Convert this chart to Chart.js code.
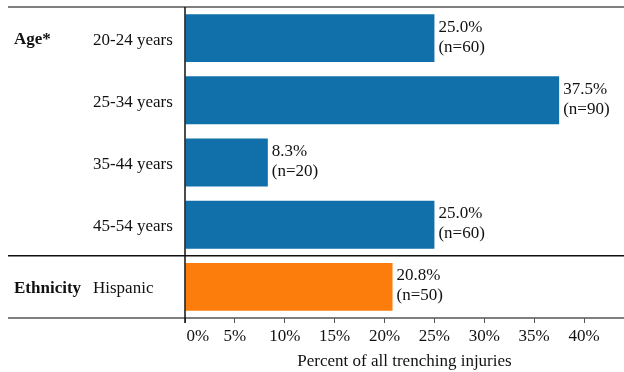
<!DOCTYPE html>
<html>
<head>
<meta charset="utf-8">
<script src="https://cdn.jsdelivr.net/npm/chart.js@4"></script>
<style>
  html, body { margin: 0; padding: 0; background: #fff; }
  #wrap { width: 624px; height: 372px; position: relative; }
</style>
</head>
<body>
<div id="wrap"><canvas id="barchart"></canvas></div>
<script>
// Trenching injuries by age group and ethnicity
const categories = ['20-24 years', '25-34 years', '35-44 years', '45-54 years', 'Hispanic'];
const percents = [25.0, 37.5, 8.3, 25.0, 20.8];
const counts = [60, 90, 20, 60, 50];
const groups = [
  { label: 'Age*', first: 0 },
  { label: 'Ethnicity', first: 4 }
];
const xTicks = [0, 5, 10, 15, 20, 25, 30, 35, 40];

const blue = '#1170aa';
const orange = '#fc7d0b';
const fontFamily = '"Liberation Serif", "Times New Roman", serif';

// Rules across the whole width, group names and value labels
const tablePlugin = {
  id: 'tablePlugin',
  afterDraw(chart) {
    const ctx = chart.ctx;
    const area = chart.chartArea;
    const y = chart.scales.y;
    const x = chart.scales.x;
    const w = chart.width;
    const slot = y.getPixelForValue(1) - y.getPixelForValue(0);

    ctx.save();
    // top and bottom rules
    ctx.strokeStyle = '#555';
    ctx.lineWidth = 1.5;
    ctx.beginPath();
    ctx.moveTo(8, area.top);
    ctx.lineTo(w, area.top);
    ctx.moveTo(8, area.bottom);
    ctx.lineTo(w, area.bottom);
    ctx.stroke();

    // separator between the groups
    ctx.strokeStyle = '#111';
    ctx.lineWidth = 1.5;
    groups.slice(1).forEach(g => {
      const yy = y.getPixelForValue(g.first) - slot / 2;
      ctx.beginPath();
      ctx.moveTo(8, yy);
      ctx.lineTo(w, yy);
      ctx.stroke();
    });

    // vertical axis line, running down to the 0% tick
    ctx.beginPath();
    ctx.moveTo(x.getPixelForValue(0), area.top);
    ctx.lineTo(x.getPixelForValue(0), area.bottom + 5);
    ctx.stroke();

    // group names
    ctx.fillStyle = '#111';
    ctx.font = 'bold 17px ' + fontFamily;
    ctx.textAlign = 'left';
    ctx.textBaseline = 'middle';
    groups.forEach(g => {
      ctx.fillText(g.label, 14, y.getPixelForValue(g.first) + 2);
    });

    // value labels next to each bar
    ctx.font = '17px ' + fontFamily;
    const meta = chart.getDatasetMeta(0);
    meta.data.forEach((bar, i) => {
      const lx = bar.x + 4;
      ctx.fillText(percents[i].toFixed(1) + '%', lx, bar.y - 11);
      ctx.fillText('(n=' + counts[i] + ')', lx, bar.y + 9);
    });
    ctx.restore();
  }
};

new Chart(document.getElementById('barchart'), {
  type: 'bar',
  data: {
    labels: categories,
    datasets: [{
      data: percents,
      backgroundColor: categories.map((c, i) => i < 4 ? blue : orange),
      borderWidth: 0,
      categoryPercentage: 1,
      barPercentage: 0.77
    }]
  },
  options: {
    indexAxis: 'y',
    responsive: true,
    maintainAspectRatio: false,
    animation: false,
    layout: { padding: { top: 7, right: 0, left: 93, bottom: 0 } },
    plugins: {
      legend: { display: false },
      tooltip: { enabled: false }
    },
    scales: {
      x: {
        min: 0,
        max: 44,
        afterBuildTicks: scale => {
          scale.ticks = xTicks.map(v => ({ value: v }));
        },
        afterFit: scale => { scale.height = 54; },
        border: { display: false },
        grid: {
          drawOnChartArea: false,
          drawTicks: true,
          tickLength: 5,
          color: '#555',
          lineWidth: 1
        },
        ticks: {
          autoSkip: false,
          maxRotation: 0,
          padding: 3,
          color: '#111',
          font: { family: fontFamily, size: 17 },
          callback: v => (v === 0 ? '\u2002\u2002\u2002' : '') + v + '%'
        },
        title: {
          display: true,
          text: 'Percent of all trenching injuries',
          color: '#111',
          font: { family: fontFamily, size: 17 },
          padding: { top: 0, bottom: 0 }
        }
      },
      y: {
        afterFit: scale => {
          scale.width = 92;
          scale.paddingTop = 0;
          scale.paddingBottom = 0;
        },
        border: { display: false },
        grid: { display: false, drawTicks: false },
        ticks: {
          crossAlign: 'far',
          padding: 0,
          labelOffset: 2,
          color: '#111',
          font: { family: fontFamily, size: 17 }
        }
      }
    }
  },
  plugins: [tablePlugin]
});
</script>
</body>
</html>
